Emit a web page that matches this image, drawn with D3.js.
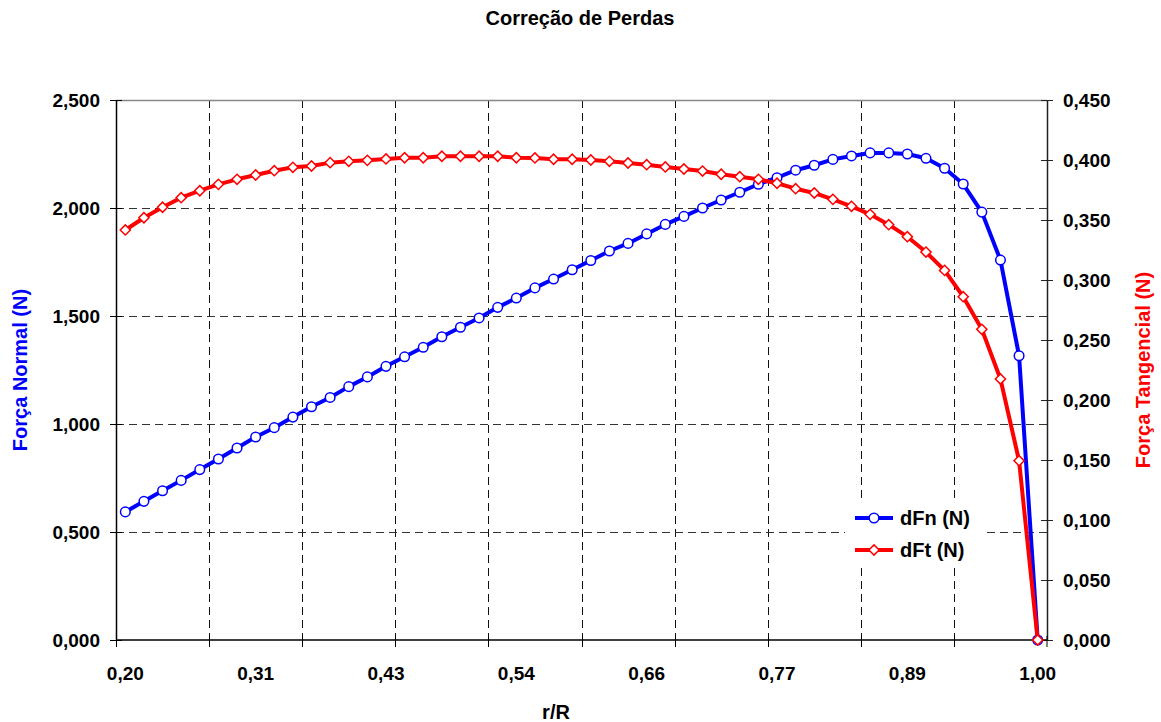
<!DOCTYPE html>
<html>
<head>
<meta charset="utf-8">
<script src="https://cdn.jsdelivr.net/npm/d3@7"></script>
<style>
  html, body { margin: 0; padding: 0; background: #fff; }
  svg { display: block; font-family: "Liberation Sans", Arial, sans-serif; }
</style>
</head>
<body>
<svg id="chart" width="1161" height="722"></svg>
<script>
// r/R stations along the blade (category axis)
const rR = [
  0.2000, 0.2163, 0.2327, 0.2490, 0.2653, 0.2816, 0.2980, 0.3143, 0.3306, 0.3469,
  0.3633, 0.3796, 0.3959, 0.4122, 0.4286, 0.4449, 0.4612, 0.4776, 0.4939, 0.5102,
  0.5265, 0.5429, 0.5592, 0.5755, 0.5918, 0.6082, 0.6245, 0.6408, 0.6571, 0.6735,
  0.6898, 0.7061, 0.7224, 0.7388, 0.7551, 0.7714, 0.7878, 0.8041, 0.8204, 0.8367,
  0.8531, 0.8694, 0.8857, 0.9020, 0.9184, 0.9347, 0.9510, 0.9673, 0.9837, 1.0000
];

// Normal force per station (left axis)
const dFn = [
  0.593, 0.642, 0.691, 0.739, 0.789, 0.838, 0.889, 0.940, 0.983, 1.032,
  1.080, 1.123, 1.173, 1.218, 1.267, 1.311, 1.355, 1.404, 1.448, 1.491,
  1.540, 1.583, 1.630, 1.671, 1.714, 1.757, 1.801, 1.836, 1.880, 1.924,
  1.961, 2.000, 2.037, 2.073, 2.110, 2.140, 2.175, 2.198, 2.225, 2.241,
  2.255, 2.255, 2.250, 2.230, 2.184, 2.111, 1.981, 1.759, 1.316, 0.000
];

// Tangential force per station (right axis)
const dFt = [
  0.3417, 0.3519, 0.3606, 0.3686, 0.3744, 0.3797, 0.3839, 0.3875, 0.3911, 0.3939,
  0.3950, 0.3978, 0.3989, 0.3997, 0.4009, 0.4019, 0.4019, 0.4031, 0.4031, 0.4031,
  0.4031, 0.4019, 0.4017, 0.4006, 0.4006, 0.4000, 0.3989, 0.3975, 0.3961, 0.3942,
  0.3925, 0.3908, 0.3881, 0.3861, 0.3839, 0.3806, 0.3761, 0.3725, 0.3672, 0.3614,
  0.3547, 0.3461, 0.3361, 0.3233, 0.3080, 0.2861, 0.2589, 0.2175, 0.1494, 0.0000
];

const leftTicks  = [0, 0.5, 1.0, 1.5, 2.0, 2.5];
const rightTicks = [0, 0.05, 0.10, 0.15, 0.20, 0.25, 0.30, 0.35, 0.40, 0.45];
const labelEvery = 7;   // category label interval
const tickEvery  = 5;   // tick mark / gridline interval

const svg = d3.select("#chart");
const plot = { left: 116, right: 1047, top: 100, bottom: 640 };

const idx = d3.range(rR.length);
const x = d3.scaleBand().domain(idx).range([plot.left, plot.right]).padding(0);
const cx = i => x(i) + x.bandwidth() / 2;
const yL = d3.scaleLinear().domain([0, 2.5]).range([plot.bottom, plot.top]);
const yR = d3.scaleLinear().domain([0, 0.45]).range([plot.bottom, plot.top]);
const crisp = v => Math.round(v) + 0.5;

const commaFmt = d => d3.format(".3f")(d).replace(".", ",");
const catFmt = d => d3.format(".2f")(d).replace(".", ",");

// Title
svg.append("text")
  .attr("x", 580).attr("y", 25)
  .attr("text-anchor", "middle")
  .attr("font-size", 20).attr("font-weight", "bold")
  .text("Correção de Perdas");

// Gridlines
const grid = svg.append("g");
const boundaries = idx.filter(i => i % tickEvery === 0 && i > 0).map(i => crisp(x(i)));
grid.selectAll("line.v").data(boundaries).join("line").attr("class", "v")
  .attr("x1", d => d).attr("x2", d => d)
  .attr("y1", plot.top).attr("y2", plot.bottom)
  .attr("stroke", "#111").attr("stroke-width", 1).attr("stroke-dasharray", "8,5");
grid.selectAll("line.h").data(leftTicks.filter(t => t > 0 && t < 2.5)).join("line").attr("class", "h")
  .attr("x1", plot.left).attr("x2", plot.right)
  .attr("y1", d => crisp(yL(d))).attr("y2", d => crisp(yL(d)))
  .attr("stroke", "#333").attr("stroke-width", 1).attr("stroke-dasharray", "8,5");

// Plot frame (top edge)
svg.append("line")
  .attr("x1", plot.left).attr("x2", plot.right)
  .attr("y1", plot.top + 0.5).attr("y2", plot.top + 0.5)
  .attr("stroke", "#888").attr("stroke-width", 1.5);

// Left axis
const axL = svg.append("g").attr("transform", `translate(${plot.left},0)`)
  .call(d3.axisLeft(yL).tickValues(leftTicks).tickFormat(commaFmt).tickSizeInner(6).tickSizeOuter(0).tickPadding(10));
axL.select(".domain").attr("stroke", "#000").attr("stroke-width", 1.5);
axL.selectAll(".tick line").attr("x2", 6).attr("x1", -6).attr("stroke", "#000");
axL.selectAll(".tick text").attr("font-size", 19).attr("font-weight", "bold")
  .attr("font-family", "Liberation Sans, Arial, sans-serif").attr("fill", "#000");

// Right axis
const axR = svg.append("g").attr("transform", `translate(${plot.right},0)`)
  .call(d3.axisRight(yR).tickValues(rightTicks).tickFormat(commaFmt).tickSizeInner(6).tickSizeOuter(0).tickPadding(10));
axR.select(".domain").attr("stroke", "#222").attr("stroke-width", 1.5);
axR.selectAll(".tick line").attr("x1", -6).attr("x2", 6).attr("stroke", "#222");
axR.selectAll(".tick text").attr("font-size", 19).attr("font-weight", "bold")
  .attr("font-family", "Liberation Sans, Arial, sans-serif").attr("fill", "#000");

// Bottom (category) axis
const axB = svg.append("g").attr("transform", `translate(0,${plot.bottom})`);
axB.append("line")
  .attr("x1", plot.left).attr("x2", plot.right)
  .attr("stroke", "#000").attr("stroke-width", 1.5);
axB.selectAll("line.tk").data(idx.filter(i => i % tickEvery === 0).map(i => crisp(x(i))).concat([plot.right]))
  .join("line").attr("class", "tk")
  .attr("x1", d => d).attr("x2", d => d).attr("y1", -4).attr("y2", 7)
  .attr("stroke", "#000");
axB.selectAll("text").data(idx.filter(i => i % labelEvery === 0)).join("text")
  .attr("x", i => cx(i)).attr("y", 40)
  .attr("text-anchor", "middle")
  .attr("font-size", 19).attr("font-weight", "bold")
  .text(i => catFmt(rR[i]));

// Axis titles
svg.append("text")
  .attr("x", 556).attr("y", 719)
  .attr("text-anchor", "middle")
  .attr("font-size", 20).attr("font-weight", "bold")
  .text("r/R");
svg.append("text")
  .attr("transform", `translate(27,${(plot.top + plot.bottom) / 2}) rotate(-90)`)
  .attr("text-anchor", "middle")
  .attr("font-size", 20).attr("font-weight", "bold").attr("fill", "#0000ff")
  .text("Força Normal (N)");
svg.append("text")
  .attr("transform", `translate(1150,${(plot.top + plot.bottom) / 2}) rotate(-90)`)
  .attr("text-anchor", "middle")
  .attr("font-size", 20).attr("font-weight", "bold").attr("fill", "#ff0000")
  .text("Força Tangencial (N)");

// Series
const series = [
  { name: "dFn (N)", values: dFn, y: yL, color: "#0000ff", marker: "circle" },
  { name: "dFt (N)", values: dFt, y: yR, color: "#ff0000", marker: "diamond" }
];

function drawMarker(sel, s) {
  if (s.marker === "circle") {
    sel.append("circle").attr("r", 4.8)
      .attr("fill", "#fff").attr("stroke", s.color).attr("stroke-width", 1.5);
  } else {
    sel.append("path").attr("d", d3.symbol().type(d3.symbolSquare).size(52)())
      .attr("transform", "rotate(45)")
      .attr("fill", "#fff").attr("stroke", s.color).attr("stroke-width", 1.5);
  }
}

series.forEach(s => {
  const g = svg.append("g");
  const line = d3.line().x(i => cx(i)).y(i => s.y(s.values[i]));
  g.append("path").datum(idx)
    .attr("d", line)
    .attr("fill", "none").attr("stroke", s.color).attr("stroke-width", 4)
    .attr("stroke-linejoin", "round");
  g.selectAll("g.m").data(idx).join("g").attr("class", "m")
    .attr("transform", i => `translate(${cx(i)},${s.y(s.values[i])})`)
    .each(function () { drawMarker(d3.select(this), s); });
});

// Legend
const lg = svg.append("g");
lg.append("rect").attr("x", 845).attr("y", 500).attr("width", 140).attr("height", 67).attr("fill", "#fff");
series.forEach((s, k) => {
  const ly = 518 + k * 32;
  lg.append("line").attr("x1", 855).attr("x2", 893).attr("y1", ly).attr("y2", ly)
    .attr("stroke", s.color).attr("stroke-width", 4);
  const m = lg.append("g").attr("transform", `translate(874,${ly})`);
  drawMarker(m, s);
  lg.append("text").attr("x", 900).attr("y", ly + 7)
    .attr("font-size", 20).attr("font-weight", "bold")
    .text(s.name);
});
</script>
</body>
</html>
